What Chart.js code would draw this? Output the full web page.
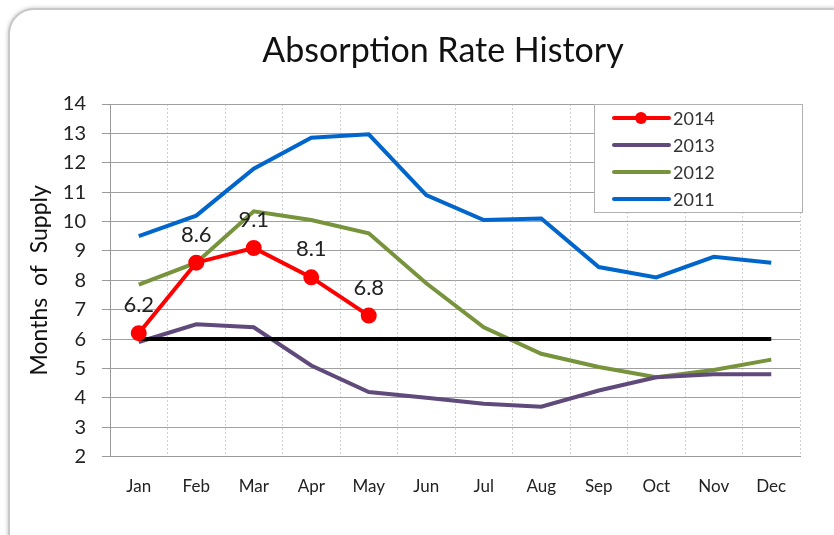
<!DOCTYPE html>
<html>
<head>
<meta charset="utf-8">
<script src="https://cdn.jsdelivr.net/npm/chart.js@4.4.1/dist/chart.umd.min.js"></script>
<style>
  html, body { margin:0; padding:0; background:#fff; }
  #wrap { position:relative; width:834px; height:535px; overflow:hidden; background:#fff; }
  #frame { position:absolute; left:8px; top:8px; width:860px; height:570px; border:2px solid #c8c8c8; border-radius:26px; box-shadow:0 0 4px rgba(0,0,0,0.25); background:#fff; }
  canvas { position:absolute; left:0; top:0; }
</style>
</head>
<body>
<div id="wrap">
  <div id="frame"></div>
  <canvas id="chart" width="834" height="535"></canvas>
</div>
<script>
const months = ['Jan','Feb','Mar','Apr','May','Jun','Jul','Aug','Sep','Oct','Nov','Dec'];
const y2014 = [6.2, 8.6, 9.1, 8.1, 6.8];
const y2013 = [5.9, 6.5, 6.4, 5.1, 4.2, 4.0, 3.8, 3.7, 4.25, 4.7, 4.8, 4.8];
const y2012 = [7.85, 8.6, 10.35, 10.05, 9.6, 7.9, 6.4, 5.5, 5.05, 4.7, 4.95, 5.3];
const y2011 = [9.5, 10.2, 11.8, 12.85, 12.97, 10.9, 10.05, 10.1, 8.45, 8.1, 8.8, 8.6];
const balanced = [6, 6, 6, 6, 6, 6, 6, 6, 6, 6, 6, 6];
const yTicks = [2, 3, 4, 5, 6, 7, 8, 9, 10, 11, 12, 13, 14];
const chartTitle = 'Absorption Rate History';

const FONT = 'Lato, "Open Sans", sans-serif';

// title sits a bit right of the canvas centre, like the original
const titleText = {
  id: 'titleText',
  afterDraw(chart){
    const ctx = chart.ctx;
    ctx.save();
    ctx.font = '34px ' + FONT;
    ctx.fillStyle = '#111';
    ctx.textAlign = 'center';
    ctx.textBaseline = 'middle';
    ctx.fillText(chartTitle, 443, 51);
    ctx.restore();
  }
};

// labels above the 2014 points
const pointLabels = {
  id: 'pointLabels',
  afterDatasetsDraw(chart){
    const ctx = chart.ctx;
    const meta = chart.getDatasetMeta(0);
    ctx.save();
    ctx.font = '22px ' + FONT;
    ctx.fillStyle = '#222';
    ctx.textAlign = 'center';
    ctx.textBaseline = 'middle';
    meta.data.forEach((pt, i) => {
      ctx.fillText(y2014[i].toFixed(1), pt.x, pt.y - 28);
    });
    ctx.restore();
  }
};

// boxed legend drawn inside the plot, top right
const boxLegend = {
  id: 'boxLegend',
  afterDraw(chart){
    const ctx = chart.ctx, a = chart.chartArea;
    const items = chart.data.datasets.filter(d => d.inLegend);
    const w = 208, h = 108, x = a.right - w + 2, y = a.top;
    ctx.save();
    ctx.fillStyle = '#fff';
    ctx.fillRect(x, y, w, h);
    ctx.strokeStyle = '#b0b0b0';
    ctx.lineWidth = 1;
    ctx.strokeRect(x + 0.5, y + 0.5, w, h);
    ctx.font = '18px ' + FONT;
    ctx.textBaseline = 'middle';
    items.forEach((d, i) => {
      const cy = y + 14 + i * 27;
      ctx.strokeStyle = d.borderColor;
      ctx.lineWidth = 4;
      ctx.lineCap = 'round';
      ctx.beginPath();
      ctx.moveTo(x + 20, cy);
      ctx.lineTo(x + 75, cy);
      ctx.stroke();
      if (d.pointRadius > 0) {
        ctx.fillStyle = d.borderColor;
        ctx.beginPath();
        ctx.arc(x + 47, cy, 6, 0, Math.PI * 2);
        ctx.fill();
      }
      ctx.fillStyle = '#333';
      ctx.fillText(d.label, x + 79, cy + 1);
    });
    ctx.restore();
  }
};

new Chart(document.getElementById('chart'), {
  type: 'line',
  data: {
    labels: months,
    datasets: [
      { label:'2014', data:y2014, borderColor:'#ff0000', backgroundColor:'#ff0000', borderWidth:4, pointRadius:6, pointHoverRadius:6, order:0, inLegend:true },
      { label:'', data:balanced, borderColor:'#000000', borderWidth:4, pointRadius:0, order:1, inLegend:false },
      { label:'2013', data:y2013, borderColor:'#604a7b', borderWidth:4, pointRadius:0, order:2, inLegend:true },
      { label:'2012', data:y2012, borderColor:'#77933c', borderWidth:4, pointRadius:0, order:3, inLegend:true },
      { label:'2011', data:y2011, borderColor:'#0066cc', borderWidth:4, pointRadius:0, order:4, inLegend:true }
    ]
  },
  options: {
    responsive:false,
    animation:false,
    devicePixelRatio:1,
    layout:{ padding:{ left:26, right:34, top:104, bottom:18 } },
    plugins:{
      legend:{ display:false },
      tooltip:{ enabled:false },
      title:{ display:false }
    },
    scales:{
      x:{
        offset:true,
        grid:{ color:'#cfcfcf', lineWidth:1, drawTicks:false, offset:true },
        border:{ color:'#999', dash:[2,2] },
        ticks:{ color:'#222', font:{ family:FONT, size:17 }, padding:20 }
      },
      y:{
        min:2, max:14,
        afterBuildTicks(s){ s.ticks = yTicks.map(v => ({ value:v })); },
        afterFit(s){ s.width = 84; },
        grid:{ color:'#a0a0a0', lineWidth:1, tickLength:8, tickColor:'#999' },
        border:{ color:'#999' },
        ticks:{ color:'#222', font:{ family:FONT, size:20 }, padding:16 },
        title:{ display:true, text:'Months  of  Supply', color:'#111', font:{ family:FONT, size:23 }, padding:0 }
      }
    }
  },
  plugins:[titleText, pointLabels, boxLegend]
});
</script>
</body>
</html>
